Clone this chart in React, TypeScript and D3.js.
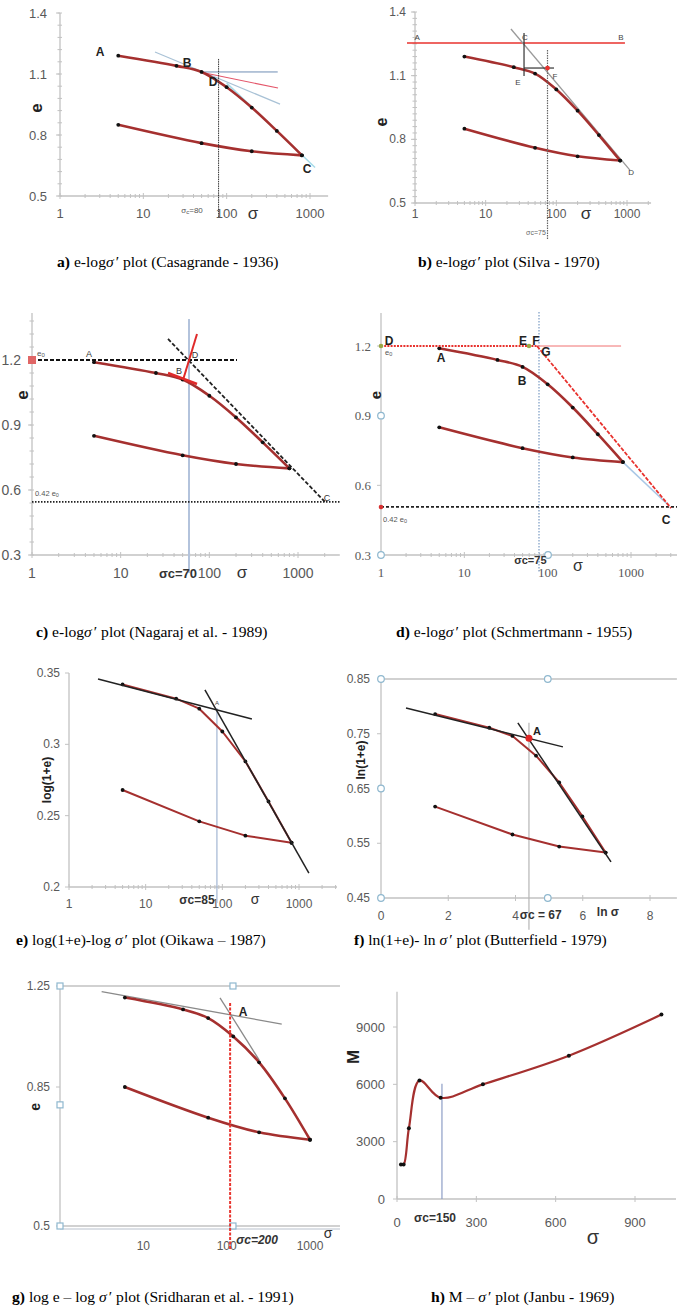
import React from 'react';
import * as d3 from 'd3';

// ---------- data ----------
const loadSigma = [5, 25, 50, 100, 200, 400, 800];
const loadE = [1.19, 1.14, 1.11, 1.035, 0.935, 0.82, 0.7];
const unloadSigma = [800, 200, 50, 5];
const unloadE = [0.7, 0.72, 0.76, 0.85];

const logLoadE = [0.342, 0.332, 0.325, 0.309, 0.288, 0.26, 0.231];
const logUnloadE = [0.231, 0.236, 0.246, 0.268];

const lnLoadSigma = [1.61, 3.22, 3.91, 4.61, 5.3, 5.99, 6.68];
const lnLoadE = [0.786, 0.761, 0.746, 0.71, 0.661, 0.599, 0.533];
const lnUnloadSigma = [6.68, 5.3, 3.91, 1.61];
const lnUnloadE = [0.533, 0.544, 0.566, 0.617];

const gLoadSigma = [6, 30, 60, 120, 245, 500, 1000];
const gLoadE = [1.196, 1.143, 1.106, 1.031, 0.934, 0.814, 0.695];
const gUnloadSigma = [1000, 245, 60, 6];
const gUnloadE = [0.695, 0.715, 0.756, 0.85];

const hSigma = [15, 25, 45, 85, 165, 325, 650, 1000];
const hM = [1800, 1800, 3700, 6200, 5300, 6000, 7500, 9650];

// tick labels
const sigmaTicks = [1, 10, 100, 1000];
const gSigmaTicks = [10, 100, 1000];
const eTicksAB = [0.5, 0.8, 1.1, 1.4];
const eTicksCD = [0.3, 0.6, 0.9, 1.2];
const logTicks = [0.2, 0.25, 0.3, 0.35];
const lnTicks = [0.45, 0.55, 0.65, 0.75, 0.85];
const lnSigmaTicks = [0, 2, 4, 6, 8];
const gETicks = [0.5, 0.85, 1.25];
const mTicks = [0, 3000, 6000, 9000];
const hSigmaTicks = [0, 300, 600, 900];

// construction lines (data coordinates)
const aHorizontal = [[48, 1.11], [410, 1.11]];
const aBisector = [[48, 1.11], [413, 1.031]];
const aTangent = [[13.8, 1.208], [437, 0.952]];
const aVirgin = [[100, 1.055], [1150, 0.64]];
const aSigmaC = [[80, 1.174], [80, 0.397]];

const bAB = [[0.77, 1.254], [935, 1.254]];
const bTangent = [[22.8, 1.32], [1100, 0.655]];
const bVert = [[34.9, 1.301], [34.9, 1.098]];
const bHoriz = [[34.9, 1.136], [92.7, 1.136]];
const bSigmaC = [[75, 1.221], [75, 0.326]];
const bDot = [75, 1.136];

const cE0 = [[1, 1.2], [205, 1.2]];
const cBase = [[1, 0.545], [2960, 0.545]];
const cVirgin = [[34.2, 1.297], [2015, 0.545]];
const cSigmaC = [[59, 1.389], [59, 0.217]];
const cRedUp = [[50.5, 1.108], [72.6, 1.32]];
const cRedTan = [[34.2, 1.14], [72.6, 1.089]];
const cSquare = [1, 1.2];

const dRedDotted = [[1, 1.2], [76.6, 1.2]];
const dRedThin = [[76.6, 1.2], [760, 1.2]];
const dRedDashed = [[74.5, 1.2], [3020, 0.502]];
const dBlueExt = [[800, 0.7], [2900, 0.51]];
const dBase = [[1, 0.507], [3600, 0.507]];
const dSigmaC = [[78.7, 1.346], [78.7, 0.222]];
const dHandles = [[1, 0.9], [1, 0.3], [101, 0.3]];
const dOlive = [[1, 1.2], [59.7, 1.2]];
const dRed = [1, 0.507];

const eL1 = [[2.39, 0.3458], [243, 0.3177]];
const eL2 = [[59.3, 0.3381], [1346, 0.2098]];
const eSigmaC = [[85, 0.3255], [85, 0.1888]];

const fL1 = [[0.743, 0.797], [5.41, 0.726]];
const fL2 = [[4.07, 0.77], [6.84, 0.516]];
const fSigmaC = [[4.4, 0.77], [4.4, 0.392]];
const fA = [4.4, 0.742];
const fHandles = [[0, 0.85], [4.96, 0.85], [0, 0.65], [0, 0.45], [4.96, 0.45]];

const gT1 = [[3.16, 1.223], [458, 1.081]];
const gT2 = [[83.2, 1.195], [246, 0.942]];
const gSigmaC = [[110, 1.171], [110, 0.456]];
const gHandles = [[1, 1.25], [119, 1.25], [1, 0.794], [1, 0.5], [119, 0.5]];

const hSigmaC = [[170, 6030], [170, 0]];

// ---------- styles ----------
const AX = '#c2c2c2';
const TK = '#595959';
const SANS = "'Liberation Sans', Arial, sans-serif";
const SERIF = "'Liberation Serif', 'Times New Roman', serif";
const CURVE = '#a5302f';

function minorLog(lo, hi) {
  const out = [];
  for (let k = Math.floor(Math.log10(lo)); k <= Math.ceil(Math.log10(hi)); k++) {
    for (let m = 2; m <= 9; m++) {
      const v = m * Math.pow(10, k);
      if (v > lo && v < hi) out.push(v);
    }
  }
  return out;
}

function seg(x, y, p, props) {
  return <line x1={x(p[0][0])} y1={y(p[0][1])} x2={x(p[1][0])} y2={y(p[1][1])} fill="none" {...props} />;
}

function Curves({ x, y, xs1, ys1, xs2, ys2, curve, width = 2.6, r = 1.9 }) {
  const line = d3.line().x((d) => x(d[0])).y((d) => y(d[1])).curve(curve);
  const p1 = xs1.map((v, i) => [v, ys1[i]]);
  const p2 = xs2.map((v, i) => [v, ys2[i]]);
  return (
    <g>
      <path d={line(p1)} fill="none" stroke={CURVE} strokeWidth={width} strokeLinejoin="round" />
      <path d={line(p2)} fill="none" stroke={CURVE} strokeWidth={width} strokeLinejoin="round" />
      {p1.concat(p2).map((d, i) => (
        <circle key={i} cx={x(d[0])} cy={y(d[1])} r={r} fill="#111" />
      ))}
    </g>
  );
}

function XAxis({ x, yPx, from, to, ticks, off, fs = 12, family = SANS, log = true, minor = true, tickLen = 3, color = AX, labels = true }) {
  const mins = log && minor ? minorLog(from, to) : [];
  return (
    <g>
      <line x1={x(from)} x2={x(to)} y1={yPx} y2={yPx} stroke={color} strokeWidth={1.3} />
      {mins.map((v) => (
        <line key={'m' + v} x1={x(v)} x2={x(v)} y1={yPx - 2} y2={yPx + 2} stroke={color} strokeWidth={1} />
      ))}
      {ticks.map((v) => (
        <g key={v}>
          <line x1={x(v)} x2={x(v)} y1={yPx - tickLen} y2={yPx + tickLen} stroke={color} strokeWidth={1} />
          {labels && (
            <text x={x(v)} y={yPx + off} textAnchor="middle" fontFamily={family} fontSize={fs} fill={TK}>
              {String(v)}
            </text>
          )}
        </g>
      ))}
    </g>
  );
}

function YAxis({ y, xPx, from, to, ticks, gap, fs = 12, family = SANS, minorStep = 0, color = AX }) {
  const mins = minorStep > 0 ? d3.range(from, to + 1e-9, minorStep) : [];
  return (
    <g>
      <line x1={xPx} x2={xPx} y1={y(from)} y2={y(to)} stroke={color} strokeWidth={1.3} />
      {mins.map((v, i) => (
        <line key={'m' + i} x1={xPx - 2.5} x2={xPx + 2} y1={y(v)} y2={y(v)} stroke={color} strokeWidth={1} />
      ))}
      {ticks.map((v) => (
        <g key={v}>
          <line x1={xPx - 4} x2={xPx} y1={y(v)} y2={y(v)} stroke={color} strokeWidth={1} />
          <text x={xPx - gap} y={y(v)} textAnchor="end" dominantBaseline="central" fontFamily={family} fontSize={fs} fill={TK}>
            {String(v)}
          </text>
        </g>
      ))}
    </g>
  );
}

function Lbl({ x, y, children, fs = 12, bold = true, anchor = 'middle', fill = '#222', family = SANS, italic = false }) {
  return (
    <text x={x} y={y} textAnchor={anchor} dominantBaseline="central" fontFamily={family} fontSize={fs}
      fontWeight={bold ? 'bold' : 'normal'} fontStyle={italic ? 'italic' : 'normal'} fill={fill}>
      {children}
    </text>
  );
}

function RotLbl({ x, y, text, fs = 16 }) {
  return (
    <text transform={`translate(${x},${y}) rotate(-90)`} textAnchor="middle" dominantBaseline="central"
      fontFamily={SANS} fontSize={fs} fontWeight="bold" fill="#222">
      {text}
    </text>
  );
}

function Handle({ cx, cy, square = false }) {
  return square ? (
    <rect x={cx - 3} y={cy - 3} width={6} height={6} fill="#fff" stroke="#8fb8cf" strokeWidth={1.2} />
  ) : (
    <circle cx={cx} cy={cy} r={3.3} fill="#fff" stroke="#8fb8cf" strokeWidth={1.2} />
  );
}

const captions = [
  { x: 57, y: 267, tag: 'a)', pre: ' e-log', post: ' plot (Casagrande - 1936)' },
  { x: 418, y: 267, tag: 'b)', pre: ' e-log', post: ' plot (Silva - 1970)' },
  { x: 36, y: 637, tag: 'c)', pre: ' e-log', post: ' plot (Nagaraj et al. - 1989)' },
  { x: 396, y: 637, tag: 'd)', pre: ' e-log', post: ' plot (Schmertmann - 1955)' },
  { x: 16, y: 945, tag: 'e)', pre: ' log(1+e)-log ', post: ' plot (Oikawa \u2013 1987)' },
  { x: 354, y: 945, tag: 'f)', pre: ' ln(1+e)- ln ', post: ' plot (Butterfield - 1979)' },
  { x: 12, y: 1302, tag: 'g)', pre: ' log e \u2013 log ', post: ' plot (Sridharan et al. - 1991)' },
  { x: 431, y: 1302, tag: 'h)', pre: ' M \u2013 ', post: ' plot (Janbu - 1969)' },
];

function Caption({ c }) {
  return (
    <text x={c.x} y={c.y} fontFamily={SERIF} fontSize={15.6} fill="#000" xmlSpace="preserve">
      <tspan fontWeight="bold">{c.tag}</tspan>
      <tspan>{c.pre}</tspan>
      <tspan fontStyle="italic">σ</tspan>
      <tspan dx={2}>{'\u2032'}</tspan>
      <tspan>{c.post}</tspan>
    </text>
  );
}

export default function App() {
  const cr = d3.curveCatmullRom.alpha(0.5);

  // panel scales
  const xA = d3.scaleLog().domain([1, 1000]).range([60, 310]);
  const yA = d3.scaleLinear().domain([0.5, 1.4]).range([196, 13]);
  const xB = d3.scaleLog().domain([1, 1000]).range([415, 627]);
  const yB = d3.scaleLinear().domain([0.5, 1.4]).range([203, 12]);
  const xC = d3.scaleLog().domain([1, 1000]).range([32, 298]);
  const yC = d3.scaleLinear().domain([0.3, 1.2]).range([555, 360]);
  const xD = d3.scaleLog().domain([1, 1000]).range([381, 631]);
  const yD = d3.scaleLinear().domain([0.3, 1.2]).range([555, 346]);
  const xE = d3.scaleLog().domain([1, 1000]).range([69, 299]);
  const yE = d3.scaleLinear().domain([0.2, 0.35]).range([887, 673]);
  const xF = d3.scaleLinear().domain([0, 8]).range([381, 650]);
  const yF = d3.scaleLinear().domain([0.45, 0.85]).range([898, 679]);
  const xG = d3.scaleLog().domain([1, 1000]).range([60, 310]);
  const yG = d3.scaleLog().domain([0.5, 1.25]).range([1226, 986]);
  const xH = d3.scaleLinear().domain([0, 900]).range([397, 635]);
  const yH = d3.scaleLinear().domain([0, 9000]).range([1199, 1027]);

  const hLine = d3.line().x((d) => xH(d[0])).y((d) => yH(d[1])).curve(d3.curveCatmullRom.alpha(0.5));
  const hPts = hSigma.map((v, i) => [v, hM[i]]);

  return (
    <svg width={677} height={1311} style={{ position: 'absolute', left: 0, top: 0, background: '#fff' }}>
      <rect width={677} height={1311} fill="#fff" />

      {/* ---------- a ---------- */}
      <g>
        <YAxis y={yA} xPx={60} from={0.5} to={1.4} ticks={eTicksAB} gap={13} fs={13} minorStep={0.06} />
        <XAxis x={xA} yPx={196} from={1} to={1650} ticks={sigmaTicks} off={21.5} fs={13} />
        {seg(xA, yA, aVirgin, { stroke: '#a6dbe8', strokeWidth: 1.5 })}
        {seg(xA, yA, aTangent, { stroke: '#a9c2d6', strokeWidth: 1.2 })}
        {seg(xA, yA, aHorizontal, { stroke: '#6f8db5', strokeWidth: 1 })}
        {seg(xA, yA, aBisector, { stroke: '#e4566a', strokeWidth: 1.2 })}
        <Curves x={xA} y={yA} xs1={loadSigma} ys1={loadE} xs2={unloadSigma} ys2={unloadE} curve={cr} />
        {seg(xA, yA, aSigmaC, { stroke: '#333', strokeWidth: 1, strokeDasharray: '1.5,0.8' })}
        <Lbl x={xA(3.02)} y={yA(1.208)}>A</Lbl>
        <Lbl x={xA(33.4)} y={yA(1.154)}>B</Lbl>
        <Lbl x={xA(68.6)} y={yA(1.061)}>D</Lbl>
        <Lbl x={xA(921)} y={yA(0.633)}>C</Lbl>
        <text x={xA(38.4)} y={yA(0.431)} textAnchor="middle" dominantBaseline="central" fontFamily={SANS} fontSize={8} fill="#555">
          σ<tspan fontSize={6} dy={2}>c</tspan><tspan dy={-2}>=80</tspan>
        </text>
        <RotLbl x={36} y={yA(0.933)} text="e" fs={17} />
        <Lbl x={xA(207)} y={213} fs={17} bold={false} fill="#333">σ</Lbl>
      </g>

      {/* ---------- b ---------- */}
      <g>
        <YAxis y={yB} xPx={415} from={0.5} to={1.4} ticks={eTicksAB} gap={9} fs={12} minorStep={0.03} />
        <XAxis x={xB} yPx={203} from={1} to={2190} ticks={sigmaTicks} off={14.5} fs={12} />
        {seg(xB, yB, bAB, { stroke: '#e8322e', strokeWidth: 1.6 })}
        {seg(xB, yB, bTangent, { stroke: '#9a9a9a', strokeWidth: 1.3 })}
        <Curves x={xB} y={yB} xs1={loadSigma} ys1={loadE} xs2={unloadSigma} ys2={unloadE} curve={cr} />
        {seg(xB, yB, bVert, { stroke: '#333', strokeWidth: 1.2 })}
        {seg(xB, yB, bHoriz, { stroke: '#333', strokeWidth: 1.2 })}
        {seg(xB, yB, bSigmaC, { stroke: '#666', strokeWidth: 1.2, strokeDasharray: '1.5,1' })}
        <circle cx={xB(bDot[0])} cy={yB(bDot[1])} r={2.4} fill="#e8322e" />
        <Lbl x={xB(1.07)} y={yB(1.282)} fs={8} bold={false} fill="#444">A</Lbl>
        <Lbl x={xB(822)} y={yB(1.282)} fs={8} bold={false} fill="#444">B</Lbl>
        <Lbl x={xB(36)} y={yB(1.282)} fs={8} bold={false} fill="#444">C</Lbl>
        <Lbl x={xB(28.7)} y={yB(1.07)} fs={8} bold={false} fill="#444">E</Lbl>
        <Lbl x={xB(95.7)} y={yB(1.094)} fs={8} bold={false} fill="#444">F</Lbl>
        <Lbl x={xB(1140)} y={yB(0.646)} fs={8} bold={false} fill="#444">D</Lbl>
        <Lbl x={xB(51.5)} y={yB(0.359)} fs={7} bold={false} fill="#666">σc=75</Lbl>
        <RotLbl x={381} y={yB(0.882)} text="e" fs={16} />
        <Lbl x={xB(263)} y={213} fs={17} bold={false} fill="#333">σ</Lbl>
      </g>

      {/* ---------- c ---------- */}
      <g>
        <YAxis y={yC} xPx={32} from={0.3} to={1.417} ticks={eTicksCD} gap={11} fs={14} minorStep={0.06} />
        <XAxis x={xC} yPx={555} from={1} to={2960} ticks={sigmaTicks} off={22.5} fs={14} />
        {seg(xC, yC, cSigmaC, { stroke: '#b3c3dc', strokeWidth: 2 })}
        {seg(xC, yC, cE0, { stroke: '#111', strokeWidth: 2, strokeDasharray: '4,2' })}
        {seg(xC, yC, cBase, { stroke: '#222', strokeWidth: 1.6, strokeDasharray: '1.5,1.5' })}
        <Curves x={xC} y={yC} xs1={loadSigma} ys1={loadE} xs2={unloadSigma} ys2={unloadE} curve={cr} />
        {seg(xC, yC, cVirgin, { stroke: '#222', strokeWidth: 1.8, strokeDasharray: '4,2' })}
        {seg(xC, yC, cRedUp, { stroke: '#e02a2a', strokeWidth: 2 })}
        {seg(xC, yC, cRedTan, { stroke: '#e02a2a', strokeWidth: 2.6 })}
        <rect x={xC(cSquare[0]) - 4} y={yC(cSquare[1]) - 4} width={8} height={8} fill="#e06666" />
        <text x={xC(1.14)} y={yC(1.232)} dominantBaseline="central" fontFamily={SANS} fontSize={8} fill="#555">
          e<tspan fontSize={6} dy={2}>0</tspan>
        </text>
        <Lbl x={xC(4.4)} y={yC(1.228)} fs={9} bold={false} fill="#333">A</Lbl>
        <Lbl x={xC(45.5)} y={yC(1.149)} fs={9} bold={false} fill="#333">B</Lbl>
        <Lbl x={xC(68.9)} y={yC(1.223)} fs={9} bold={false} fill="#333">D</Lbl>
        <Lbl x={xC(2120)} y={yC(0.563)} fs={9} bold={false} fill="#333">C</Lbl>
        <text x={xC(1.08)} y={yC(0.586)} dominantBaseline="central" fontFamily={SANS} fontSize={7.5} fill="#555">
          0.42 e<tspan fontSize={5.5} dy={2}>0</tspan>
        </text>
        <Lbl x={xC(44.3)} y={573} fs={13} bold={true} fill="#333">σc=70</Lbl>
        <Lbl x={xC(233)} y={572} fs={17} bold={false} fill="#333">σ</Lbl>
        <RotLbl x={22} y={yC(1.038)} text="e" fs={17} />
      </g>

      {/* ---------- d ---------- */}
      <g>
        <YAxis y={yD} xPx={381} from={0.3} to={1.342} ticks={eTicksCD} gap={10} fs={13} family={SERIF} minorStep={0} />
        <XAxis x={xD} yPx={555} from={1} to={3600} ticks={sigmaTicks} off={22} fs={13} family={SERIF} />
        {seg(xD, yD, dSigmaC, { stroke: '#7b9bc4', strokeWidth: 1.2, strokeDasharray: '1.5,1.5' })}
        {seg(xD, yD, dBase, { stroke: '#222', strokeWidth: 1.8, strokeDasharray: '3,2' })}
        {seg(xD, yD, dRedThin, { stroke: '#f07070', strokeWidth: 1 })}
        {seg(xD, yD, dBlueExt, { stroke: '#a9c8e6', strokeWidth: 1.5 })}
        <Curves x={xD} y={yD} xs1={loadSigma} ys1={loadE} xs2={unloadSigma} ys2={unloadE} curve={cr} />
        {seg(xD, yD, dRedDotted, { stroke: '#e8322e', strokeWidth: 2.2, strokeDasharray: '2,1.2' })}
        {seg(xD, yD, dRedDashed, { stroke: '#e8322e', strokeWidth: 1.8, strokeDasharray: '4,1.5' })}
        {dHandles.map((p, i) => <Handle key={i} cx={xD(p[0])} cy={yD(p[1])} />)}
        {dOlive.map((p, i) => <circle key={i} cx={xD(p[0])} cy={yD(p[1])} r={2.3} fill="#9aa845" />)}
        <circle cx={xD(dRed[0])} cy={yD(dRed[1])} r={2.3} fill="#d83030" />
        <Lbl x={xD(1.25)} y={yD(1.222)} fs={12}>D</Lbl>
        <Lbl x={xD(50.6)} y={yD(1.222)} fs={12}>E</Lbl>
        <Lbl x={xD(72.4)} y={yD(1.222)} fs={12}>F</Lbl>
        <Lbl x={xD(95.5)} y={yD(1.174)} fs={12}>G</Lbl>
        <Lbl x={xD(5.25)} y={yD(1.148)} fs={12}>A</Lbl>
        <Lbl x={xD(49.2)} y={yD(1.049)} fs={12}>B</Lbl>
        <Lbl x={xD(2630)} y={yD(0.451)} fs={12}>C</Lbl>
        <text x={xD(1.12)} y={yD(1.174)} dominantBaseline="central" fontFamily={SANS} fontSize={7.5} fill="#555">
          e<tspan fontSize={5.5} dy={2}>0</tspan>
        </text>
        <text x={xD(1.06)} y={yD(0.455)} dominantBaseline="central" fontFamily={SANS} fontSize={7.5} fill="#555">
          0.42 e<tspan fontSize={5.5} dy={2}>0</tspan>
        </text>
        <Lbl x={xD(62)} y={560} fs={11} fill="#333">σc=75</Lbl>
        <Lbl x={xD(231)} y={565} fs={16} bold={false} fill="#333">σ</Lbl>
        <RotLbl x={375} y={yD(0.989)} text="e" fs={15} />
      </g>

      {/* ---------- e ---------- */}
      <g>
        <YAxis y={yE} xPx={69} from={0.2} to={0.35} ticks={logTicks} gap={9} fs={12} />
        <XAxis x={xE} yPx={887} from={1} to={3130} ticks={sigmaTicks} off={20.5} fs={12} />
        {seg(xE, yE, eSigmaC, { stroke: '#a3b6d3', strokeWidth: 1.2 })}
        <Curves x={xE} y={yE} xs1={loadSigma} ys1={logLoadE} xs2={unloadSigma} ys2={logUnloadE} curve={d3.curveLinear} width={2} />
        {seg(xE, yE, eL1, { stroke: '#222', strokeWidth: 1.5 })}
        {seg(xE, yE, eL2, { stroke: '#222', strokeWidth: 1.5 })}
        <Lbl x={xE(85)} y={yE(0.3292)} fs={6} bold={false} fill="#444">A</Lbl>
        <Lbl x={xE(46.7)} y={900} fs={12} fill="#333">σc=85</Lbl>
        <Lbl x={xE(267)} y={899} fs={14} bold={false} fill="#333">σ</Lbl>
        <RotLbl x={47} y={yE(0.275)} text="log(1+e)" fs={12} />
      </g>

      {/* ---------- f ---------- */}
      <g>
        <line x1={xF(0)} x2={xF(8.8)} y1={yF(0.85)} y2={yF(0.85)} stroke={AX} strokeWidth={1.3} />
        <YAxis y={yF} xPx={381} from={0.45} to={0.85} ticks={lnTicks} gap={11} fs={12} />
        <XAxis x={xF} yPx={898} from={0} to={8.8} ticks={lnSigmaTicks} off={21.5} fs={12} log={false} />
        {fHandles.map((p, i) => <Handle key={i} cx={xF(p[0])} cy={yF(p[1])} />)}
        {seg(xF, yF, fSigmaC, { stroke: '#b5b5b5', strokeWidth: 1.2 })}
        <Curves x={xF} y={yF} xs1={lnLoadSigma} ys1={lnLoadE} xs2={lnUnloadSigma} ys2={lnUnloadE} curve={d3.curveLinear} width={2} />
        {seg(xF, yF, fL1, { stroke: '#222', strokeWidth: 1.5 })}
        {seg(xF, yF, fL2, { stroke: '#222', strokeWidth: 1.5 })}
        <circle cx={xF(fA[0])} cy={yF(fA[1])} r={3.5} fill="#e02525" />
        <Lbl x={xF(4.64)} y={yF(0.755)} fs={11}>A</Lbl>
        <Lbl x={xF(4.75)} y={915} fs={12} fill="#333">σc = 67</Lbl>
        <Lbl x={xF(6.75)} y={912} fs={12} fill="#333">ln σ</Lbl>
        <RotLbl x={361} y={yF(0.702)} text="ln(1+e)" fs={12} />
      </g>

      {/* ---------- g ---------- */}
      <g>
        <line x1={xG(1)} x2={xG(2290)} y1={yG(1.25)} y2={yG(1.25)} stroke={AX} strokeWidth={1.5} />
        <line x1={xG(1)} x2={xG(2290)} y1={yG(0.5) + 3} y2={yG(0.5) + 3} stroke="#d0d6de" strokeWidth={1.5} />
        <YAxis y={yG} xPx={60} from={0.5} to={1.25} ticks={gETicks} gap={10} fs={12} />
        <XAxis x={xG} yPx={1226} from={1} to={2290} ticks={gSigmaTicks} off={23.5} fs={12} minor={false} tickLen={0} />
        {gHandles.map((p, i) => <Handle key={i} cx={xG(p[0])} cy={yG(p[1])} square />)}
        {seg(xG, yG, gT1, { stroke: '#8a8a8a', strokeWidth: 1.3 })}
        {seg(xG, yG, gT2, { stroke: '#8a8a8a', strokeWidth: 1.3 })}
        <Curves x={xG} y={yG} xs1={gLoadSigma} ys1={gLoadE} xs2={gUnloadSigma} ys2={gUnloadE} curve={cr} />
        {seg(xG, yG, gSigmaC, { stroke: '#e8352f', strokeWidth: 2, strokeDasharray: '3,1.5' })}
        <Lbl x={xG(157)} y={yG(1.132)} fs={12}>A</Lbl>
        <Lbl x={xG(232)} y={1240} fs={12} fill="#333" italic>σc=200</Lbl>
        <Lbl x={xG(1650)} y={1233} fs={14} bold={false} fill="#333">σ</Lbl>
        <RotLbl x={35} y={yG(0.788)} text="e" fs={14} />
      </g>

      {/* ---------- h ---------- */}
      <g>
        <YAxis y={yH} xPx={397} from={0} to={10840} ticks={mTicks} gap={12} fs={13} />
        <XAxis x={xH} yPx={1199} from={0} to={1055} ticks={hSigmaTicks} off={27.5} fs={13} log={false} />
        {seg(xH, yH, hSigmaC, { stroke: '#8d9ec6', strokeWidth: 1.2 })}
        <path d={hLine(hPts)} fill="none" stroke={CURVE} strokeWidth={2.2} />
        {hPts.map((d, i) => <circle key={i} cx={xH(d[0])} cy={yH(d[1])} r={2} fill="#111" />)}
        <Lbl x={xH(144)} y={1218} fs={12} fill="#333">σc=150</Lbl>
        <Lbl x={xH(741)} y={1237} fs={20} bold={false} fill="#333">σ</Lbl>
        <RotLbl x={353} y={yH(7430)} text="M" fs={17} />
      </g>

      {captions.map((c, i) => <Caption key={i} c={c} />)}
    </svg>
  );
}
